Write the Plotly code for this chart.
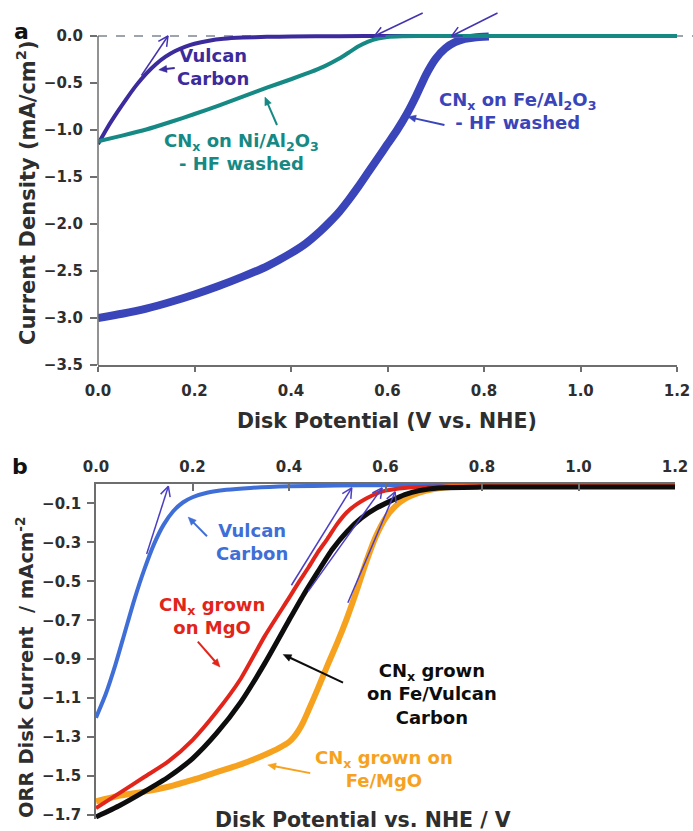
import math
import plotly.graph_objects as go

W, H = 693, 831
FONT = "DejaVu Sans"

# ---------------- panel a: CNx on Al2O3 supports ----------------
a_vulcan_v = [0.00, 0.02, 0.04, 0.06, 0.08, 0.10, 0.12, 0.14, 0.16, 0.18, 0.20,
              0.23, 0.26, 0.30, 0.35, 0.40, 0.50, 0.60, 0.80]
a_vulcan_j = [-1.15, -0.97, -0.81, -0.66, -0.52, -0.40, -0.30, -0.22, -0.16, -0.115, -0.082,
              -0.05, -0.03, -0.017, -0.009, -0.005, -0.002, 0.0, 0.0]

a_ni_v = [0.00, 0.05, 0.10, 0.15, 0.20, 0.25, 0.30, 0.35, 0.40, 0.44, 0.47, 0.50,
          0.52, 0.54, 0.56, 0.58, 0.60, 0.63, 0.70, 0.80, 1.00, 1.20]
a_ni_j = [-1.12, -1.06, -0.995, -0.915, -0.83, -0.74, -0.645, -0.55, -0.46, -0.385, -0.32, -0.24,
          -0.175, -0.11, -0.06, -0.027, -0.01, -0.003, 0.0, 0.0, 0.0, 0.0]

a_fe_v = [0.00, 0.05, 0.10, 0.15, 0.20, 0.25, 0.30, 0.35, 0.40, 0.43, 0.46, 0.48,
          0.50, 0.52, 0.54, 0.56, 0.58, 0.60, 0.62, 0.64, 0.66, 0.68, 0.70, 0.72,
          0.74, 0.76, 0.78, 0.81]
a_fe_j = [-3.00, -2.955, -2.90, -2.83, -2.75, -2.66, -2.56, -2.45, -2.31, -2.21, -2.08, -1.98,
          -1.87, -1.74, -1.60, -1.45, -1.30, -1.15, -1.00, -0.83, -0.63, -0.41, -0.24, -0.13,
          -0.065, -0.03, -0.015, -0.005]

a_yticks = [0.0, -0.5, -1.0, -1.5, -2.0, -2.5, -3.0, -3.5]
a_xticks = [0.0, 0.2, 0.4, 0.6, 0.8, 1.0, 1.2]

# ---------------- panel b: CNx grown on MgO / Vulcan ----------------
b_vulcan_v = [0.00, 0.02, 0.04, 0.06, 0.08, 0.10, 0.12, 0.14, 0.16, 0.18, 0.20,
              0.23, 0.27, 0.32, 0.40, 0.50, 0.60, 0.80]
b_vulcan_j = [-1.20, -1.08, -0.93, -0.76, -0.59, -0.44, -0.31, -0.21, -0.14, -0.095, -0.068,
              -0.045, -0.03, -0.02, -0.012, -0.008, -0.006, -0.005]

b_mgo_v = [0.00, 0.05, 0.10, 0.15, 0.20, 0.25, 0.30, 0.35, 0.40, 0.42, 0.44, 0.46,
           0.48, 0.50, 0.52, 0.54, 0.56, 0.58, 0.60, 0.64, 0.70, 0.80, 1.00, 1.20]
b_mgo_j = [-1.665, -1.585, -1.505, -1.425, -1.315, -1.17, -1.00, -0.78, -0.585, -0.505, -0.43, -0.35,
           -0.28, -0.205, -0.145, -0.105, -0.075, -0.05, -0.034, -0.02, -0.014, -0.012, -0.012, -0.012]

b_femgo_v = [0.00, 0.05, 0.10, 0.15, 0.20, 0.25, 0.30, 0.35, 0.38, 0.40, 0.41, 0.42,
             0.43, 0.44, 0.46, 0.48, 0.50, 0.52, 0.54, 0.56, 0.58, 0.60, 0.62, 0.64,
             0.67, 0.70, 0.75, 0.80, 1.00, 1.20]
b_femgo_j = [-1.63, -1.60, -1.58, -1.555, -1.52, -1.48, -1.44, -1.39, -1.355, -1.325, -1.30, -1.265,
             -1.22, -1.165, -1.05, -0.93, -0.815, -0.69, -0.55, -0.40, -0.27, -0.175, -0.115, -0.077,
             -0.045, -0.026, -0.013, -0.01, -0.01, -0.01]

b_fevc_v = [0.00, 0.05, 0.10, 0.15, 0.20, 0.25, 0.30, 0.35, 0.40, 0.43, 0.46, 0.49,
            0.52, 0.55, 0.58, 0.61, 0.64, 0.67, 0.71, 0.80, 1.00, 1.20]
b_fevc_j = [-1.71, -1.65, -1.58, -1.505, -1.41, -1.28, -1.12, -0.92, -0.70, -0.57, -0.45, -0.335,
            -0.245, -0.175, -0.125, -0.088, -0.055, -0.034, -0.02, -0.016, -0.016, -0.016]

b_yticks = [-0.1, -0.3, -0.5, -0.7, -0.9, -1.1, -1.3, -1.5, -1.7]
b_xticks = [0.0, 0.2, 0.4, 0.6, 0.8, 1.0, 1.2]

# onset tangents (tail -> head), per panel
a_tangents = [((0.09, -0.42), (0.145, 0.0)),
              ((0.673, 0.245), (0.573, 0.0)),
              ((0.828, 0.245), (0.733, 0.0))]
b_tangents = [((0.105, -0.36), (0.150, -0.012)),
              ((0.405, -0.52), (0.530, -0.02)),
              ((0.440, -0.55), (0.593, -0.02)),
              ((0.522, -0.61), (0.620, -0.04))]

# ---------------- colours ----------------
C_INDIGO = "#3b2b9c"
C_TEAL = "#168984"
C_FE = "#3a45b9"
C_BLUE = "#3f6fd6"
C_RED = "#e1251b"
C_BLACK = "#0d0d0d"
C_ORANGE = "#f6a21e"
C_TAN_A = "#4433b0"
C_TAN_B = "#4b3fc4"
C_AXIS = "#6e6e6e"
C_TEXT = "#2e2e2e"


def px_x(px):
    return px / W


def px_y(py):
    return (H - py) / H


# panel geometry in pixels
A_L, A_R = 98, 677
A_TOP0, A_BOT = 36, 365          # y of 0.0 and -3.5
A_YMAX = 0.30                    # head-room above zero for the onset arrows
a_ppu = (A_BOT - A_TOP0) / 3.5
B_L, B_R = 96, 675
B_TOP0, B_BOT = 484, 815         # y of 0.0 and -1.7
b_ppu = (B_BOT - B_TOP0) / 1.7
B_YMIN = -1.72

GEOM = {
    "a": dict(L=A_L, ppx=(A_R - A_L) / 1.2, T0=A_TOP0, ppu=a_ppu, xa="x", ya="y"),
    "b": dict(L=B_L, ppx=(B_R - B_L) / 1.2, T0=B_TOP0, ppu=b_ppu, xa="x2", ya="y2"),
}

fig = go.Figure()


def curve(x, y, color, width, panel):
    g = GEOM[panel]
    fig.add_trace(go.Scatter(x=x, y=y, mode="lines",
                             line=dict(color=color, width=width, shape="spline", smoothing=0.6),
                             xaxis=g["xa"], yaxis=g["ya"], showlegend=False, hoverinfo="skip"))


# panel a curves
curve(a_vulcan_v, a_vulcan_j, C_INDIGO, 4, "a")
curve(a_fe_v, a_fe_j, C_FE, 8, "a")
curve(a_ni_v, a_ni_j, C_TEAL, 4, "a")

# panel b curves
curve(b_vulcan_v, b_vulcan_j, C_BLUE, 4, "b")
curve(b_femgo_v, b_femgo_j, C_ORANGE, 6, "b")
curve(b_mgo_v, b_mgo_j, C_RED, 4, "b")
curve(b_fevc_v, b_fevc_j, C_BLACK, 5, "b")


def arrow(tail, head, panel, color, width, kind):
    """Arrow from tail to head (data units); the head is laid out in screen pixels."""
    g = GEOM[panel]
    tx, ty = g["L"] + tail[0] * g["ppx"], g["T0"] - tail[1] * g["ppu"]
    hx, hy = g["L"] + head[0] * g["ppx"], g["T0"] - head[1] * g["ppu"]
    n = math.hypot(hx - tx, hy - ty)
    ux, uy = (hx - tx) / n, (hy - ty) / n

    def back(px, py):
        return (px - g["L"]) / g["ppx"], (g["T0"] - py) / g["ppu"]

    common = dict(xaxis=g["xa"], yaxis=g["ya"], showlegend=False, hoverinfo="skip")
    if kind == "open":
        arms = []
        for s in (1, -1):
            a = math.radians(27) * s
            rx = ux * math.cos(a) - uy * math.sin(a)
            ry = ux * math.sin(a) + uy * math.cos(a)
            arms.append(back(hx - 11 * rx, hy - 11 * ry))
        xs = [tail[0], head[0], None, arms[0][0], head[0], arms[1][0]]
        ys = [tail[1], head[1], None, arms[0][1], head[1], arms[1][1]]
        fig.add_trace(go.Scatter(x=xs, y=ys, mode="lines", line=dict(color=color, width=width),
                                 **common))
    else:
        hl, hw = 8, 3.5
        bx, by = hx - hl * ux, hy - hl * uy
        shaft_end = back(bx + 1 * ux, by + 1 * uy)
        fig.add_trace(go.Scatter(x=[tail[0], shaft_end[0]], y=[tail[1], shaft_end[1]], mode="lines",
                                 line=dict(color=color, width=width), **common))
        p1 = back(bx - hw * uy, by + hw * ux)
        p2 = back(bx + hw * uy, by - hw * ux)
        fig.add_trace(go.Scatter(x=[head[0], p1[0], p2[0], head[0]], y=[head[1], p1[1], p2[1], head[1]],
                                 mode="lines", fill="toself", fillcolor=color,
                                 line=dict(color=color, width=0.5), **common))


for tail, head in a_tangents:
    arrow(tail, head, "a", C_TAN_A, 1.5, "open")
for tail, head in b_tangents:
    arrow(tail, head, "b", C_TAN_B, 1.5, "open")

# pointers from the labels to their curves
arrow((0.159, -0.34), (0.126, -0.36), "a", C_INDIGO, 2, "filled")
arrow((0.371, -0.947), (0.346, -0.65), "a", C_TEAL, 2, "filled")
arrow((0.718, -0.947), (0.642, -0.86), "a", C_FE, 2, "filled")
arrow((0.23, -0.268), (0.191, -0.17), "b", C_BLUE, 2, "filled")
arrow((0.211, -0.81), (0.257, -0.94), "b", C_RED, 2, "filled")
arrow((0.512, -1.02), (0.388, -0.876), "b", C_BLACK, 2, "filled")
arrow((0.444, -1.485), (0.356, -1.443), "b", C_ORANGE, 2, "filled")

tickfont = dict(family=FONT, size=15, color=C_TEXT, weight="bold")
common_ax = dict(tickformat=".1f", tickwidth=1.5, tickcolor=C_AXIS, showgrid=False,
                 zeroline=False, tickfont=tickfont, automargin=False)

fig.update_layout(
    width=W, height=H,
    margin=dict(l=0, r=0, t=0, b=0, pad=0, autoexpand=False),
    paper_bgcolor="white", plot_bgcolor="white",
    xaxis=dict(domain=[px_x(A_L), px_x(A_R)], range=[0, 1.2], anchor="y",
               tickvals=a_xticks, ticks="outside", ticklen=5,
               showline=True, linecolor=C_AXIS, linewidth=1.5, ticklabelstandoff=6, **common_ax),
    yaxis=dict(domain=[px_y(A_BOT), px_y(A_TOP0 - A_YMAX * a_ppu)],
               range=[-3.5, A_YMAX], anchor="x",
               tickvals=a_yticks, ticks="outside", ticklen=7,
               showline=False, ticklabelstandoff=4, **common_ax),
    xaxis2=dict(domain=[px_x(B_L), px_x(B_R)], range=[0, 1.2], anchor="y2", side="top",
                tickvals=b_xticks, ticks="inside", ticklen=7,
                showline=True, linecolor=C_AXIS, linewidth=1.5, ticklabelstandoff=4, **common_ax),
    yaxis2=dict(domain=[px_y(B_BOT + (-1.7 - B_YMIN) * b_ppu), px_y(B_TOP0)],
                range=[B_YMIN, 0.0], anchor="x2",
                tickvals=b_yticks, ticks="outside", ticklen=7,
                showline=True, linecolor=C_AXIS, linewidth=1.5, ticklabelstandoff=3, **common_ax),
)

# panel a: y-axis spine from -3.5 to 0 and the dashed zero line
fig.add_shape(type="line", xref="paper", yref="y", x0=px_x(A_L), x1=px_x(A_L), y0=-3.5, y1=0.0,
              line=dict(color=C_AXIS, width=1.5))
fig.add_shape(type="line", xref="paper", yref="y", x0=px_x(A_L), x1=1.0, y0=0.0, y1=0.0,
              line=dict(color="#7c8792", width=1.5, dash="dash"), layer="below")

ann = []


def label(text, x, y, xr, yr, color, size=18):
    ann.append(dict(x=x, y=y, xref=xr, yref=yr, text=text, showarrow=False,
                    xanchor="center", yanchor="middle", align="center",
                    font=dict(family=FONT, size=size, color=color, weight="bold")))


# panel a labels
label("Vulcan<br>Carbon", 0.238, -0.33, "x", "y", C_INDIGO)
label("CN<sub>x</sub> on Ni/Al<sub>2</sub>O<sub>3</sub><br>- HF washed", 0.298, -1.235, "x", "y", C_TEAL)
label("CN<sub>x</sub> on Fe/Al<sub>2</sub>O<sub>3</sub><br>- HF washed", 0.87, -0.80, "x", "y", C_FE)

# panel b labels
label("Vulcan<br>Carbon", 0.323, -0.30, "x2", "y2", C_BLUE)
label("CN<sub>x</sub> grown<br>on MgO", 0.24, -0.68, "x2", "y2", C_RED)
label("CN<sub>x</sub> grown<br>on Fe/Vulcan<br>Carbon", 0.696, -1.08, "x2", "y2", C_BLACK)
label("CN<sub>x</sub> grown on<br>Fe/MgO", 0.597, -1.464, "x2", "y2", C_ORANGE)


def paper_text(text, xpx, ypx, size, angle=0, color=C_TEXT):
    ann.append(dict(x=px_x(xpx), y=px_y(ypx), xref="paper", yref="paper", text=text,
                    showarrow=False, xanchor="center", yanchor="middle", textangle=angle,
                    font=dict(family=FONT, size=size, color=color, weight="bold")))


paper_text("a", 21, 31, 22, color="#111111")
paper_text("b", 20, 467, 22, color="#111111")
paper_text("Current Density (mA/cm<sup>2</sup>)", 26, 193, 21, angle=-90)
paper_text("Disk Potential (V vs. NHE)", 387, 421, 20.5)
paper_text("ORR Disk Current  / mAcm<sup>-2</sup>", 25, 668, 19.5, angle=-90)
paper_text("Disk Potential vs. NHE / V", 363, 820, 20.5)

fig.update_layout(annotations=ann)

fig.write_html("out.html")
